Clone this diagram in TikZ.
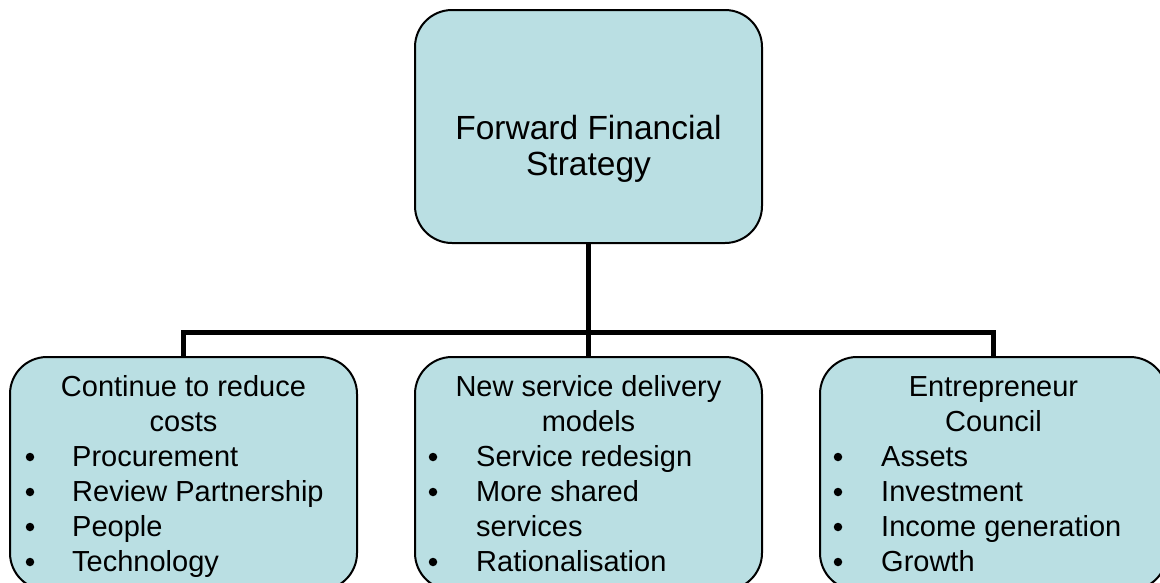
\documentclass[tikz,border=0pt]{standalone}
\usepackage{fontspec}
\setmainfont{Liberation Sans}
\definecolor{boxfill}{RGB}{186,223,227}
\tikzset{
  box/.style={draw=black, line width=2pt, fill=boxfill, rounded corners=37pt,
    minimum width=347pt, minimum height=233pt, inner sep=0pt, outer sep=0pt},
  conn/.style={draw=black, line width=5pt, line join=miter, line cap=rect},
  toptext/.style={anchor=base, inner sep=0pt, font=\fontsize{33.5}{36}\selectfont},
  head/.style={anchor=base, inner sep=0pt, font=\fontsize{29}{34}\selectfont},
  item/.style={anchor=base west, inner sep=0pt, font=\fontsize{29}{34}\selectfont},
  dot/.style={circle, fill=black, inner sep=0pt, minimum size=8.5pt}
}
\begin{document}
\begin{tikzpicture}[x=1pt,y=-1pt]
\useasboundingbox (0,0) rectangle (1160,582);
\clip (0,0) rectangle (1160,582);
% boxes positions
\coordinate (j) at (588.5,332);
% connectors first
\node[box, draw=none, fill=none] (top) at (588.5,126.5) {};
\node[box, draw=none, fill=none] (b1) at (183.5,473.5) {};
\node[box, draw=none, fill=none] (b2) at (588.5,473.5) {};
\node[box, draw=none, fill=none] (b3) at (993.5,473.5) {};
\draw[conn] (top.south) -- (b2.north);
\draw[conn] (b1.north) -- (b1.north |- j) -- (b3.north |- j) -- (b3.north);
% boxes
\node[box] (topbox) at (588.5,126.5) {};
\node[box] (box1) at (183.5,473.5) {};
\node[box] (box2) at (588.5,473.5) {};
\node[box] (box3) at (993.5,473.5) {};
% top text
\node[toptext] (t1) at (588.5,139) {Forward Financial};
\node[toptext] (t2) at (588.5,175) {Strategy};
% left box
\node[head] (l1) at (183.5,396) {Continue to reduce};
\node[head] (l2) at (183.5,431) {costs};
\node[dot] (ld1) at (30,457) {};
\node[item] (li1) at (72,466) {Procurement};
\node[dot] (ld2) at (30,492) {};
\node[item] (li2) at (72,501) {Review Partnership};
\node[dot] (ld3) at (30,527) {};
\node[item] (li3) at (72,536) {People};
\node[dot] (ld4) at (30,562) {};
\node[item] (li4) at (72,571) {Technology};
% middle box
\node[head] (m1) at (588.5,396) {New service delivery};
\node[head] (m2) at (588.5,431) {models};
\node[dot] (md1) at (433,457) {};
\node[item] (mi1) at (476,466) {Service redesign};
\node[dot] (md2) at (433,492) {};
\node[item] (mi2) at (476,501) {More shared};
\node[item] (mi2b) at (476,536) {services};
\node[dot] (md3) at (433,562) {};
\node[item] (mi3) at (476,571) {Rationalisation};
% right box
\node[head] (r1) at (993.5,396) {Entrepreneur};
\node[head] (r2) at (993.5,431) {Council};
\node[dot] (rd1) at (838,457) {};
\node[item] (ri1) at (881,466) {Assets};
\node[dot] (rd2) at (838,492) {};
\node[item] (ri2) at (881,501) {Investment};
\node[dot] (rd3) at (838,527) {};
\node[item] (ri3) at (881,536) {Income generation};
\node[dot] (rd4) at (838,562) {};
\node[item] (ri4) at (881,571) {Growth};
\end{tikzpicture}
\end{document}
